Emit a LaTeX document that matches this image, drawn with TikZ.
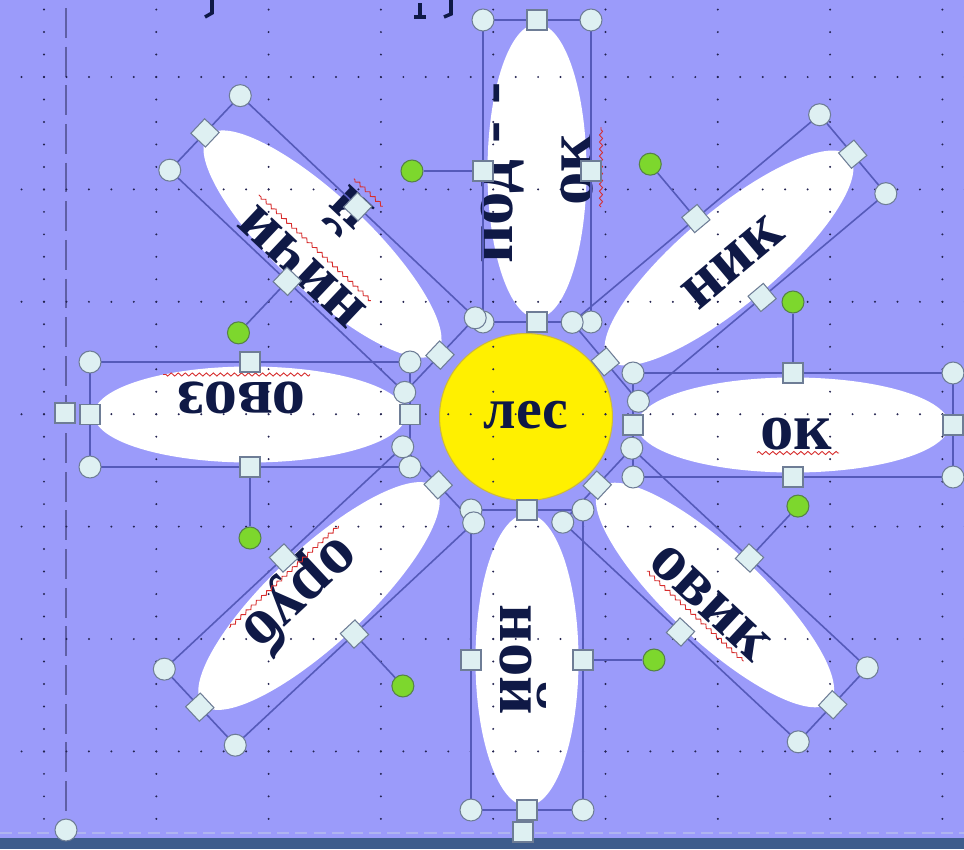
\documentclass[tikz,border=0pt]{standalone}
\usepackage{fontspec}
\setmainfont{Liberation Serif}
\usetikzlibrary{shapes.geometric,decorations.pathmorphing,calc}
\definecolor{bgcol}{RGB}{155,155,250}
\definecolor{boxcol}{RGB}{85,90,185}
\definecolor{hfill}{RGB}{222,240,242}
\definecolor{hdraw}{RGB}{110,125,150}
\definecolor{gfill}{RGB}{125,215,45}
\definecolor{gdraw}{RGB}{85,130,70}
\definecolor{txtcol}{RGB}{15,25,70}
\definecolor{sqcol}{RGB}{215,45,45}
\definecolor{suncol}{RGB}{255,240,0}
\definecolor{sunedge}{RGB}{205,185,60}
\definecolor{dotcol}{RGB}{35,35,80}
\definecolor{barcol}{RGB}{62,92,140}
\definecolor{guidecol}{RGB}{95,95,165}
\definecolor{dashcol}{RGB}{175,180,240}
\tikzset{
  petalshape/.style={ellipse, fill=white, inner sep=0pt, outer sep=0pt},
  selbox/.style={rectangle, draw=boxcol, line width=0.9pt, inner sep=0pt, outer sep=0pt},
  cornerh/.style={circle, fill=hfill, draw=hdraw, line width=0.6pt, minimum size=0.44cm, inner sep=0pt},
  edgeh/.style={rectangle, fill=hfill, draw=hdraw, line width=0.6pt, minimum size=0.40cm, inner sep=0pt},
  roth/.style={circle, fill=gfill, draw=gdraw, line width=0.6pt, minimum size=0.44cm, inner sep=0pt},
  rotline/.style={draw=boxcol, line width=0.9pt},
  ptext/.style={font=\fontsize{38}{44}\selectfont\bfseries, text=txtcol, inner sep=0pt, transform shape},
  squig/.style={draw=sqcol, line width=0.5pt, decorate, decoration={zigzag, amplitude=0.9pt, segment length=4pt}},
  frag/.style={draw=txtcol, line width=2pt},
}
\begin{document}
\begin{tikzpicture}[x=0.02cm,y=0.02cm]
\fill[bgcol] (0,0) rectangle (964,-849);
\useasboundingbox (0,0) rectangle (964,-849);

% bottom bar and guides
\fill[barcol] (0,-838) rectangle (964,-849);
\draw[dashcol, line width=0.8pt, dash pattern=on 7pt off 3.5pt] (0,-833) -- (964,-833);
\draw[guidecol, line width=0.6pt, dash pattern=on 17pt off 5pt] (66,-8) -- (66,-830);

% fragments of text cut off at the top
\draw[frag] (212,0) -- (212,-13) -- (205,-17);
\draw[frag] (420,-3) -- (420,-16) (414,-17) -- (426,-17);
\draw[frag] (451,0) -- (451,-14) -- (444,-17);

\def\petals{537/171/90/151/54, 793/425/0/160/52, 527/660/-90/150/56, 250/414.5/180/160/52.5, 729/258/40/161.5/51.5, 715/595/-43/161/50.6, 319/596/223/163/52, 322.5/244/136.6/161.7/51.3}

% petals
\foreach \cx/\cy/\a/\L/\W [count=\i] in \petals {
  \node[petalshape, rotate=\a, minimum width={(2*\L-8)*0.02cm}, minimum height={(2*\W-9)*0.02cm}] (p\i) at (\cx,-\cy) {};
}

% sun
\node[ellipse, fill=suncol, draw=sunedge, line width=0.6pt, minimum width=3.46cm, minimum height=3.34cm, inner sep=0pt] (sun) at (526,-417) {};

% grid dots
\foreach \r in {0,...,6} {
  \foreach \k in {-1,...,41} {
    \fill[dotcol] ({44+22.46*\k},{-(77+112.4*\r)}) circle[radius=1.1];
  }
}
\foreach \c in {0,...,8} {
  \foreach \m in {-3,...,33} {
    \fill[dotcol] ({44+112.3*\c},{-(77+22.48*\m)}) circle[radius=1.1];
  }
}

\node[font=\fontsize{33}{38}\selectfont\bfseries, text=txtcol, inner sep=0pt] (suntext) at (526,-415) {лес};

% texts
\begin{scope}[shift={(537,-171)}, rotate=90]
  \node[ptext] (t1a) at (-2,34) {под - -};
  \node[ptext] (t1b) at (1,-40) {ок};
  \draw[squig] (-36,-64) -- (44,-64);
\end{scope}
\begin{scope}[shift={(793,-425)}]
  \node[ptext] (t2) at (3,-9) {ок};
  \draw[squig] (-36,-28) -- (46,-28);
\end{scope}
\begin{scope}[shift={(527,-660)}, rotate=-90]
  \node[ptext] (t3) at (0,-4) {ной};
\end{scope}
\begin{scope}[shift={(250,-414.5)}, rotate=180]
  \node[ptext] (t4) at (8.5,-17) {овоз};
  \draw[squig] (-60,-40) -- (87,-40);
\end{scope}
\begin{scope}[shift={(729,-258)}, rotate=40]
  \node[ptext] (t5) at (0,-6) {ник};
\end{scope}
\begin{scope}[shift={(715,-595)}, rotate=-43]
  \node[ptext] (t6) at (2,-9) {овик};
  \draw[squig] (-66,-29) -- (66,-29);
\end{scope}
\begin{scope}[shift={(319,-596)}, rotate=223]
  \node[ptext] (t7) at (12,-15) {оруб};
  \draw[squig] (-62,-38) -- (87,-38);
\end{scope}
\begin{scope}[shift={(322.5,-244)}, rotate=136.6]
  \node[ptext] (t8a) at (-1,31) {ничи};
  \node[ptext] (t8b) at (3.5,-39) {й};
  \draw[squig] (-74,8) -- (80,8);
  \draw[squig] (-18,-69) -- (22,-69);
\end{scope}

% selection boxes and rotation connectors
\foreach \cx/\cy/\a/\L/\W [count=\i] in \petals {
  \node[selbox, rotate=\a, minimum width={2*\L*0.02cm}, minimum height={2*\W*0.02cm}] (b\i) at (\cx,-\cy) {};
  \path (b\i.center) ++(\a+90:{\W+71}) node[roth] (g\i) {};
  \draw[rotline] (b\i.north) -- (g\i);
}
% handles
\foreach \cx/\cy/\a/\L/\W [count=\i] in \petals {
  \foreach \an/\nm in {north west/nw, north east/ne, south west/sw, south east/se} {
    \node[cornerh] (b\i\nm) at (b\i.\an) {};
  }
  \foreach \an/\nm in {north/n, south/s, east/e, west/w} {
    \node[edgeh, rotate=\a] (b\i\nm) at (b\i.\an) {};
  }
}
\node[edgeh] (xa) at (65,-413) {};
\node[edgeh] (xb) at (523,-832) {};
\node[cornerh] (xc) at (66,-830) {};
\end{tikzpicture}
\end{document}
